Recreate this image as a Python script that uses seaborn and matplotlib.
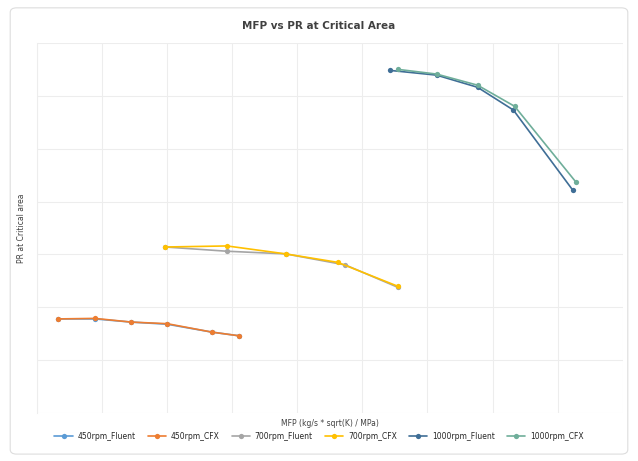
import numpy as np
import pandas as pd
import matplotlib
matplotlib.use('Agg')
import matplotlib.pyplot as plt
import seaborn as sns
from matplotlib.patches import FancyBboxPatch

# --- data (grid units, axis labels are not legible) ---
x_450_fluent = [0.32, 0.89, 1.45, 2.00, 2.69, 3.11]
y_450_fluent = [1.78, 1.78, 1.72, 1.68, 1.53, 1.46]
x_450_cfx = [0.32, 0.89, 1.45, 2.00, 2.69, 3.11]
y_450_cfx = [1.78, 1.79, 1.72, 1.69, 1.53, 1.46]

x_700_fluent = [1.97, 2.92, 3.82, 4.74, 5.54]
y_700_fluent = [3.14, 3.06, 3.01, 2.80, 2.38]
x_700_cfx = [1.97, 2.92, 3.82, 4.62, 5.54]
y_700_cfx = [3.14, 3.16, 3.01, 2.85, 2.40]

x_1000_fluent = [5.42, 6.14, 6.77, 7.32, 8.23]
y_1000_fluent = [6.48, 6.39, 6.16, 5.73, 4.22]
x_1000_cfx = [5.54, 6.14, 6.77, 7.34, 8.28]
y_1000_cfx = [6.50, 6.41, 6.20, 5.80, 4.37]

series = [
    ('450rpm_Fluent', x_450_fluent, y_450_fluent, '#5B9BD5'),
    ('450rpm_CFX', x_450_cfx, y_450_cfx, '#ED7D31'),
    ('700rpm_Fluent', x_700_fluent, y_700_fluent, '#A5A5A5'),
    ('700rpm_CFX', x_700_cfx, y_700_cfx, '#FFC000'),
    ('1000rpm_Fluent', x_1000_fluent, y_1000_fluent, '#3F6E96'),
    ('1000rpm_CFX', x_1000_cfx, y_1000_cfx, '#6FAE9A'),
]

sns.set_style('white')
plt.rcParams['font.family'] = ['DejaVu Sans']

fig = plt.figure(figsize=(6.38, 4.61), dpi=100)
ax = fig.add_axes([0.058, 0.104, 0.918, 0.803])

# light rounded frame round the whole chart, like the Excel chart area
frame = FancyBboxPatch((0.016, 0.015), 0.968, 0.968, boxstyle='round,pad=0,rounding_size=0.01',
                       transform=fig.transFigure, fill=False, edgecolor='#DDDDDD', linewidth=0.8)
fig.patches.append(frame)

for name, xs, ys, color in series:
    df = pd.DataFrame({'x': xs, 'y': ys})
    sns.lineplot(data=df, x='x', y='y', sort=False, ax=ax, color=color, linewidth=1.2,
                 marker='o', markersize=3.8, markeredgewidth=0, label=name)

ax.set_xlim(0, 9)
ax.set_ylim(0, 7)
ax.set_xticks(np.arange(0, 10, 1))
ax.set_yticks(np.arange(0, 8, 1))
ax.tick_params(length=0, labelleft=False, labelbottom=False)
ax.grid(True, color='#EDEDED', linewidth=0.8)
for side in ['top', 'right', 'bottom']:
    ax.spines[side].set_visible(False)
ax.spines['left'].set_color('#EDEDED')

ax.set_xlabel('MFP (kg/s * sqrt(K) / MPa)', fontsize=5.5, color='#404040', labelpad=4)
ax.set_ylabel('PR at Critical area', fontsize=5.5, color='#404040', labelpad=8)
fig.suptitle('MFP vs PR at Critical Area', fontsize=7.5, fontweight='bold', color='#404040', y=0.955)

handles, labels = ax.get_legend_handles_labels()
ax.get_legend().remove()
fig.legend(handles, labels, loc='center', bbox_to_anchor=(0.5, 0.054), ncol=6, fontsize=5.5,
           frameon=False, handlelength=2.4, columnspacing=1.6, handletextpad=0.6)

fig.savefig('out.png', dpi=100, facecolor='white')
